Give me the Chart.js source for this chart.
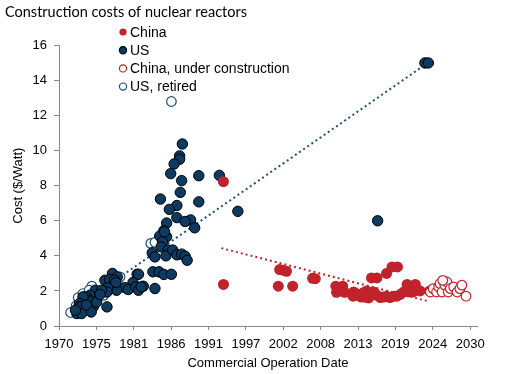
<!DOCTYPE html>
<html>
<head>
<meta charset="utf-8">
<script src="https://cdn.jsdelivr.net/npm/chart.js@4/dist/chart.umd.min.js"></script>
<style>
  html, body { margin: 0; padding: 0; background: #fff; }
  #wrap { width: 522px; height: 374px; }
</style>
</head>
<body>
<div id="wrap"><canvas id="reactorChart" width="522" height="374"></canvas></div>
<script>
// values (year, $/Watt)
const chinaYears = [1994.0, 1994.0, 2002.2, 2002.7, 2003.2, 2002.0, 2004.1, 2007.0, 2007.4, 2010.4, 2011.4, 2010.5, 2011.7,
  2013.0, 2013.4, 2013.9, 2014.4, 2014.9, 2015.4, 2015.9, 2016.4, 2016.9, 2017.4, 2017.8, 2018.3, 2018.8, 2019.3, 2014.9,
  2015.6, 2016.4, 2017.8, 2018.6, 2019.4, 2020.8, 2022.0, 2020.3, 2021.0, 2021.7, 2022.7, 2024.1, 2012.9, 2014.1, 2015.2,
  2016.0, 2019.8];
const chinaCosts = [8.23, 2.37, 3.22, 3.18, 3.12, 2.27, 2.27, 2.72, 2.70, 2.27, 2.27, 1.92, 1.92,
  1.94, 1.75, 1.80, 1.89, 2.00, 1.81, 1.94, 1.75, 1.62, 1.65, 1.70, 1.62, 1.70, 1.70, 1.62,
  2.74, 2.74, 3.00, 3.37, 3.37, 2.37, 2.37, 1.94, 1.94, 1.94, 2.00, 2.00, 1.70, 1.65, 1.60,
  1.90, 1.80];

const usYears = [1988.0, 1987.6, 1987.6, 1986.8, 1986.3, 1990.4, 1993.4, 1987.9, 1987.7, 1984.8, 1990.4, 1987.2, 1986.1,
  1996.1, 1987.2, 1989.2, 1988.4, 1989.8, 1985.7, 1985.3, 1984.7, 1985.7, 1985.1, 1984.9, 1985.9, 1985.6, 1986.6, 1987.2,
  1987.9, 1988.4, 1988.7, 1983.6, 1984.0, 1983.7, 1984.6, 1985.3, 1986.4, 1984.0, 1981.4, 1981.6, 1980.8, 1979.6, 1980.1,
  1981.2, 1981.6, 1982.3, 1978.4, 1977.8, 1978.5, 1976.7, 1977.4, 1978.1, 1978.3, 1977.1, 1977.0, 1977.0, 1975.9, 1975.3,
  1975.0, 1974.5, 1974.0, 1974.3, 1974.7, 1973.5, 1973.0, 1972.9, 1973.3, 1975.0, 1974.7, 1972.6, 1973.3, 1975.5, 1976.2,
  2016.5, 2023.4, 2023.9, 1972.4, 1974.0, 1976.0, 1985.4, 1982.0];
const usCosts = [10.38, 9.70, 9.51, 9.24, 8.69, 8.57, 8.59, 8.29, 7.62, 7.24, 7.08, 6.87, 6.65,
  6.54, 6.18, 6.05, 5.96, 5.60, 5.87, 5.43, 5.13, 5.09, 4.80, 4.51, 4.33, 4.00, 4.33, 4.06,
  4.10, 3.98, 3.75, 4.17, 3.94, 3.09, 3.09, 2.94, 2.95, 2.14, 2.95, 2.95, 2.48, 2.19, 2.08,
  2.23, 2.04, 2.27, 2.04, 3.00, 2.80, 2.61, 2.65, 2.61, 2.48, 2.17, 1.94, 1.09, 1.85, 2.04,
  1.66, 1.75, 1.66, 1.47, 1.38, 1.66, 1.28, 1.09, 1.12, 1.09, 0.80, 0.71, 0.71, 1.37, 2.04,
  6.00, 15.00, 15.00, 0.90, 1.20, 1.80, 5.37, 2.23];

const chinaBuildYears = [2024.2, 2024.6, 2025.1, 2025.4, 2025.6, 2025.9, 2026.3, 2026.6, 2026.8, 2027.1, 2027.6, 2028.1,
  2028.5, 2028.8, 2029.4, 2026.0];
const chinaBuildCosts = [1.94, 2.13, 1.94, 2.23, 2.42, 1.94, 2.33, 2.51, 1.94, 2.13, 2.23, 1.94,
  2.13, 2.33, 1.70, 2.60];

const usRetiredYears = [1971.7, 1972.8, 1973.5, 1974.8, 1974.4, 1975.4, 1976.5, 1978.9, 1983.4, 1984.0, 1986.4, 1972.5, 1973.8];
const usRetiredCosts = [0.77, 1.62, 1.85, 2.27, 2.04, 1.90, 1.75, 2.80, 4.71, 4.77, 12.80, 1.15, 1.10];

// trend line end points
const usTrendYears = [1971.5, 2022.7];
const usTrendCosts = [0.78, 14.7];
const chinaTrendYears = [1993.7, 2023.9];
const chinaTrendCosts = [4.44, 1.41];

const xTickLabels = ['1970', '1975', '1981', '1986', '1991', '1997', '2002', '2008', '2013', '2019', '2024', '2030'];

const red = '#c0232b';
const navy = '#0c3a60';
const navyLine = '#1f4e79';

function pts(xs, ys) {
    return xs.map((x, i) => ({ x: x, y: ys[i] }));
}

// legend drawn inside the plot, like the original
const insideLegend = {
    id: 'insideLegend',
    afterDraw(chart) {
        const ctx = chart.ctx;
        const items = chart.data.datasets.filter(d => !d.isTrend);
        ctx.save();
        ctx.font = '14px "Liberation Sans", Arial, sans-serif';
        ctx.textBaseline = 'middle';
        items.forEach((d, i) => {
            const y = 32 + i * 18.2;
            ctx.beginPath();
            ctx.arc(123, y, 3.6, 0, Math.PI * 2);
            ctx.fillStyle = d.backgroundColor;
            ctx.fill();
            if (d.borderWidth > 0) {
                ctx.lineWidth = 1.2;
                ctx.strokeStyle = d.borderColor;
                ctx.stroke();
            }
            ctx.fillStyle = '#000';
            ctx.fillText(d.label, 130, y + 1);
        });
        ctx.restore();
    }
};

new Chart(document.getElementById('reactorChart'), {
    type: 'scatter',
    data: {
        datasets: [
            {
                label: 'China',
                data: pts(chinaYears, chinaCosts),
                backgroundColor: red, borderColor: red, borderWidth: 0,
                pointRadius: 5.5, order: 2
            },
            {
                label: 'US',
                data: pts(usYears, usCosts),
                backgroundColor: navy, borderColor: '#000', borderWidth: 1,
                pointRadius: 5.2, order: 3
            },
            {
                label: 'China, under construction',
                data: pts(chinaBuildYears, chinaBuildCosts),
                backgroundColor: '#fff', borderColor: red, borderWidth: 1.2,
                pointRadius: 4.8, order: 1
            },
            {
                label: 'US, retired',
                data: pts(usRetiredYears, usRetiredCosts),
                backgroundColor: '#fff', borderColor: navyLine, borderWidth: 1.2,
                pointRadius: 4.8, order: 4
            },
            {
                label: 'US trend', isTrend: true,
                type: 'line',
                data: pts(usTrendYears, usTrendCosts),
                borderColor: navyLine, borderWidth: 2, borderDash: [2, 3],
                pointRadius: 0, fill: false, order: 10
            },
            {
                label: 'China trend', isTrend: true,
                type: 'line',
                data: pts(chinaTrendYears, chinaTrendCosts),
                borderColor: red, borderWidth: 2, borderDash: [2, 3],
                pointRadius: 0, fill: false, order: 10
            }
        ]
    },
    options: {
        responsive: false,
        animation: false,
        layout: { padding: { left: 5, right: 45, top: 0, bottom: 0 } },
        plugins: {
            legend: { display: false },
            tooltip: { enabled: false },
            title: {
                display: true,
                text: 'Construction costs of nuclear reactors',
                align: 'start',
                color: '#000',
                font: { family: 'Lato', size: 14.5, weight: 'normal' },
                padding: { top: 4, bottom: 24 }
            }
        },
        scales: {
            x: {
                type: 'linear',
                min: 1970,
                max: 2031,
                afterBuildTicks(scale) {
                    scale.ticks = xTickLabels.map((t, i) => ({ value: 1970 + i * 60 / 11 }));
                },
                afterFit(scale) { scale.height = 48; },
                grid: { drawOnChartArea: false, tickLength: 4, color: '#888' },
                border: { color: '#888' },
                ticks: {
                    color: '#000',
                    padding: 7,
                    maxRotation: 0,
                    font: { family: '"Liberation Sans", Arial', size: 13 },
                    callback: (v, i) => xTickLabels[i]
                },
                title: {
                    display: true,
                    text: 'Commercial Operation Date',
                    color: '#000',
                    font: { family: '"Liberation Sans", Arial', size: 13 },
                    padding: { top: 2, bottom: 3 }
                }
            },
            y: {
                min: 0,
                max: 16,
                afterFit(scale) { scale.width = 54; },
                grid: { drawOnChartArea: false, tickLength: 5, color: '#888' },
                border: { color: '#888' },
                ticks: {
                    stepSize: 2,
                    color: '#000',
                    padding: 7,
                    font: { family: '"Liberation Sans", Arial', size: 13 }
                },
                title: {
                    display: true,
                    text: 'Cost ($/Watt)',
                    color: '#000',
                    font: { family: '"Liberation Sans", Arial', size: 13 },
                    padding: { top: 6, bottom: 4 }
                }
            }
        }
    },
    plugins: [insideLegend]
});
</script>
</body>
</html>
